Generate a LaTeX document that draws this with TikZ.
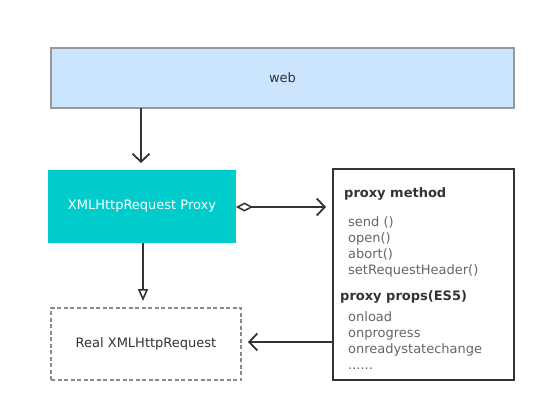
\documentclass[tikz,border=0pt]{standalone}
\usepackage{fontspec}
\setmainfont{DejaVu Sans}
\usetikzlibrary{arrows.meta}
\definecolor{webfill}{HTML}{CCE5FF}
\definecolor{webline}{HTML}{999999}
\definecolor{teal2}{HTML}{00CCCC}
\definecolor{dark}{HTML}{333333}
\definecolor{greytext}{HTML}{666666}
\begin{document}
\begin{tikzpicture}[x=1pt,y=-1pt,
  box/.style={draw, line width=1pt, inner sep=0pt, outer sep=0pt},
  conn/.style={draw=dark, line width=2pt},
  openarrow/.style={-{Straight Barb[length=8pt,width=17pt,line width=1.8pt]}, shorten >=7pt},
  trihead/.style={-{Triangle[open,length=12pt,width=10pt,line width=1.6pt]}, shorten >=7pt},
  item/.style={font=\fontsize{13}{15}\selectfont, text=greytext, inner sep=0pt, anchor=base west},
  head/.style={font=\bfseries\fontsize{13}{15}\selectfont, text=dark, inner sep=0pt, anchor=base west},
]
\useasboundingbox (0,0) rectangle (546,412);
\fill[white] (0,0) rectangle (546,412);

\node[box, draw=webline, line width=1.4pt, fill=webfill, minimum width=463pt, minimum height=60pt, anchor=north west,
  font=\fontsize{13}{15}\selectfont, text=dark] (web) at (51,48) {\raisebox{-2pt}{web}};
\node[box, draw=none, fill=teal2, minimum width=188pt, minimum height=73pt, anchor=north west,
  font=\fontsize{13}{15}\selectfont, text=white] (proxy) at (48,170) {\raisebox{-2pt}{XMLHttpRequest Proxy}};
\node[box, draw=dark, line width=1.8pt, fill=white, minimum width=181pt, minimum height=211pt, anchor=north west] (right) at (333,169) {};
\node[box, draw=webline!90!black, dashed, dash pattern=on 4pt off 2.5pt, line width=1.3pt, fill=white,
  minimum width=190pt, minimum height=72pt, anchor=north west,
  font=\fontsize{13}{15}\selectfont, text=dark] (real) at (51,308) {\raisebox{-2pt}{Real XMLHttpRequest}};

\node[head] (h1) at (344,197) {proxy method};
\node[item] (i1) at (348,226) {send ()};
\node[item] (i2) at (348,242) {open()};
\node[item] (i3) at (348,258) {abort()};
\node[item] (i4) at (348,274) {setRequestHeader()};
\node[head] (h2) at (340,300) {proxy props(ES5)};
\node[item] (j1) at (348,321) {onload};
\node[item] (j2) at (348,337) {onprogress};
\node[item] (j3) at (348,353) {onreadystatechange};
\node[item] (j4) at (348,369) {......};

\draw[conn, openarrow] (web.south -| 141,0) -- (proxy.north -| 141,0);
\draw[conn, trihead] (proxy.south -| 143,0) -- (real.north -| 143,0);
\draw[conn, {Diamond[open,length=17pt,width=9pt,line width=1.5pt]}-{Straight Barb[length=8pt,width=17pt,line width=1.8pt]}, shorten >=7pt]
  (proxy.east |- 0,207) -- (right.west |- 0,207);
\draw[conn, openarrow] (right.west |- 0,342) -- (real.east |- 0,342);
\end{tikzpicture}
\end{document}
